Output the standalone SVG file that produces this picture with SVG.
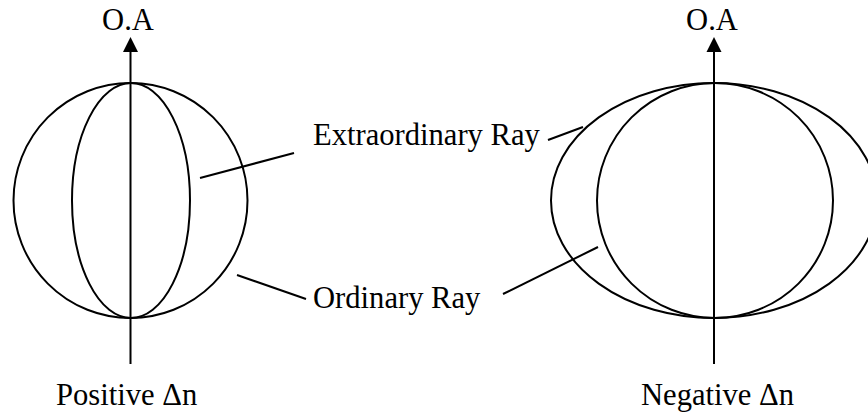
<svg xmlns="http://www.w3.org/2000/svg" width="868" height="415" viewBox="0 0 868 415">
<style>
.s{fill:none;stroke:#000;stroke-width:2}
.t{font-family:"Liberation Serif","Times New Roman",serif;font-size:30.6px;fill:#000}
.a{fill:#000;stroke:none}
</style>
<rect width="868" height="415" fill="#fff"/>
<g id="positive">
<ellipse class="s" cx="130.5" cy="200.5" rx="117" ry="117.5"/>
<ellipse class="s" cx="131" cy="200.5" rx="59" ry="117.5"/>
<line class="s" x1="130.5" y1="364" x2="130.5" y2="50"/>
<polygon class="a" points="130.5,37 123,52 138,52"/>
<text class="t" x="128" y="30" text-anchor="middle">O.A</text>
<text class="t" x="56" y="405">Positive Δn</text>
</g>
<g id="negative">
<ellipse class="s" cx="714" cy="200.5" rx="163" ry="117.5"/>
<ellipse class="s" cx="715" cy="200.5" rx="118" ry="117.5"/>
<line class="s" x1="714" y1="364" x2="714" y2="50"/>
<polygon class="a" points="714,37 706.5,52 721.5,52"/>
<text class="t" x="712" y="30" text-anchor="middle">O.A</text>
<text class="t" x="641" y="405">Negative Δn</text>
</g>
<g id="labels">
<text class="t" x="313" y="145">Extraordinary Ray</text>
<text class="t" x="313" y="308">Ordinary Ray</text>
</g>
<g id="connectors">
<line class="s" x1="200" y1="178" x2="294" y2="153"/>
<line class="s" x1="237" y1="275" x2="306" y2="299"/>
<line class="s" x1="548" y1="140" x2="583" y2="127"/>
<line class="s" x1="503" y1="294" x2="598" y2="247"/>
</g>
</svg>
